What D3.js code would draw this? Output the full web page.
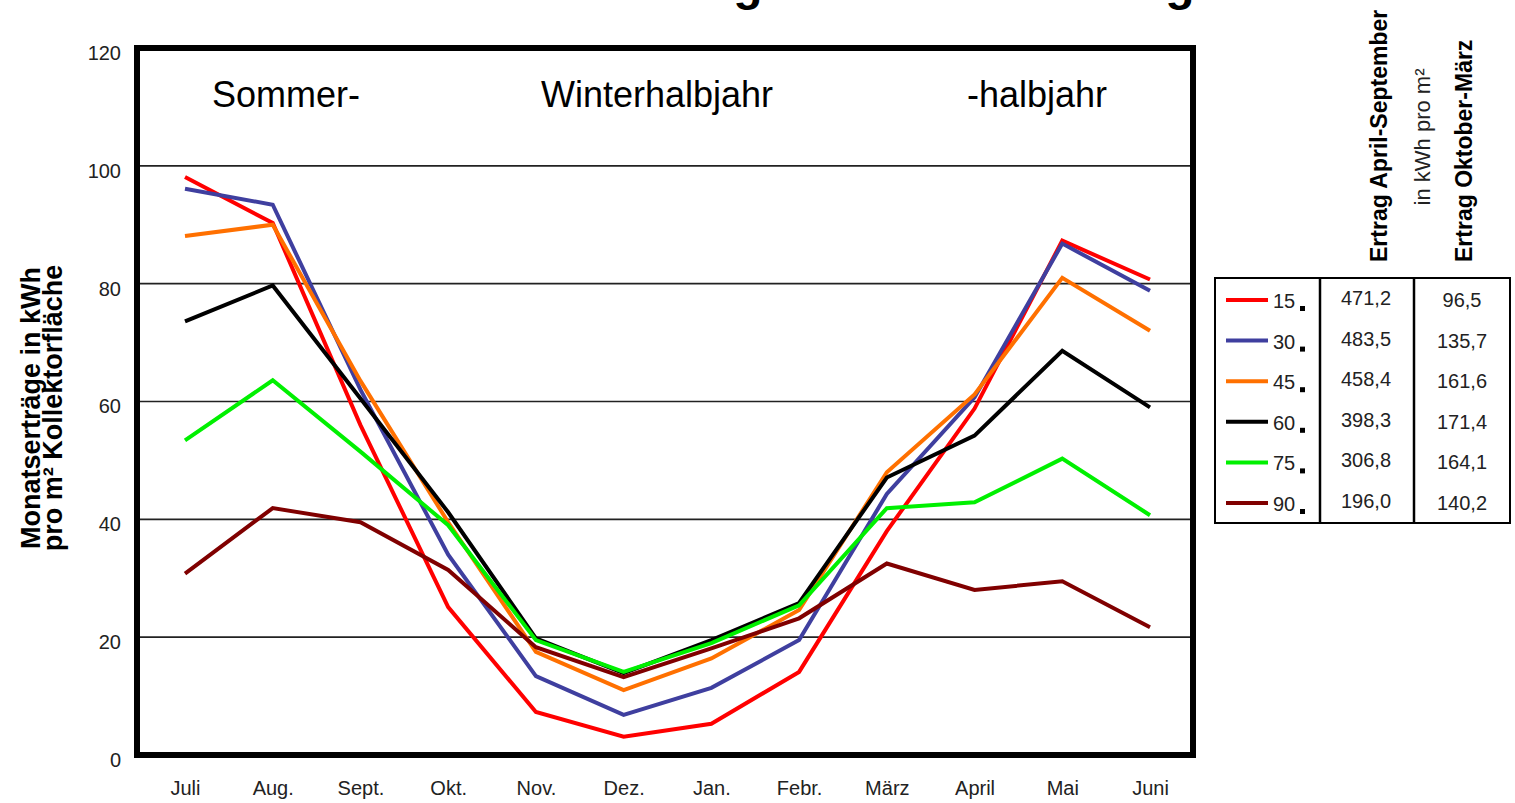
<!DOCTYPE html>
<html>
<head>
<meta charset="utf-8">
<script src="https://cdn.jsdelivr.net/npm/d3@7"></script>
<style>
  body { margin: 0; background: #fff; }
  svg text { font-family: "Liberation Sans", Arial, sans-serif; }
</style>
</head>
<body>
<svg id="chart" width="1515" height="803"></svg>
<script>
// months (Juli .. Juni)
var months = ["Juli", "Aug.", "Sept.", "Okt.", "Nov.", "Dez.", "Jan.", "Febr.", "März", "April", "Mai", "Juni"];
var yTicks = [0, 20, 40, 60, 80, 100, 120];

// monthly yield per m² for each tilt angle
var tilt15 = [98.1, 90.3, 56.0, 25.1, 7.3, 3.1, 5.3, 14.1, 38.0, 58.8, 87.3, 80.7];
var tilt30 = [96.1, 93.4, 62.0, 34.0, 13.4, 6.8, 11.4, 19.5, 44.3, 60.7, 86.8, 78.8];
var tilt45 = [88.1, 90.0, 63.5, 39.5, 17.5, 11.0, 16.4, 24.6, 48.0, 61.2, 81.0, 72.0];
var tilt60 = [73.6, 79.7, 60.5, 41.2, 19.8, 13.9, 19.5, 25.8, 47.1, 54.2, 68.6, 59.0];
var tilt75 = [53.4, 63.6, 51.5, 39.0, 19.5, 14.1, 19.0, 25.4, 41.9, 42.9, 50.3, 40.7];
var tilt90 = [30.8, 41.9, 39.5, 31.4, 18.3, 13.2, 18.1, 23.2, 32.5, 28.0, 29.5, 21.7];

var angles = ["15", "30", "45", "60", "75", "90"];
var colours = ["#ff0000", "#3f3f9f", "#ff7000", "#000000", "#00f000", "#800000"];
var sumAprSep = ["471,2", "483,5", "458,4", "398,3", "306,8", "196,0"];
var sumOctMar = ["96,5", "135,7", "161,6", "171,4", "164,1", "140,2"];

var seriesData = [tilt15, tilt30, tilt45, tilt60, tilt75, tilt90];

drawChart();

function drawChart() {

    var svg = d3.select("#chart");

    // plot frame
    var plotLeft = 137, plotRight = 1193, plotTop = 48, plotBottom = 755;

    var x = d3.scalePoint()
        .domain(months)
        .range([185, 1150]);

    var y = d3.scaleLinear()
        .domain([0, 120])
        .range([plotBottom, plotTop]);

    // cut-off title at the very top (only descenders visible)
    svg.append("text")
        .attr("x", 748).attr("y", 0)
        .attr("text-anchor", "middle")
        .style("font-weight", "bold").style("font-size", "48px")
        .text("g");
    svg.append("text")
        .attr("x", 1180).attr("y", 0)
        .attr("text-anchor", "middle")
        .style("font-weight", "bold").style("font-size", "48px")
        .text("g");

    // gridlines
    svg.append("g")
        .selectAll("line")
        .data(yTicks.filter(function (d) { return d > 0 && d < 120; }))
        .enter().append("line")
        .attr("x1", plotLeft).attr("x2", plotRight)
        .attr("y1", function (d) { return y(d); })
        .attr("y2", function (d) { return y(d); })
        .attr("stroke", "#222")
        .attr("stroke-width", 1.6);

    // y axis labels
    var yAxis = svg.append("g")
        .attr("transform", "translate(" + 121 + ",5)")
        .call(d3.axisLeft(y).tickValues(yTicks).tickSize(0).tickPadding(0));
    yAxis.select(".domain").remove();
    yAxis.selectAll("text")
        .style("font-size", "20px")
        .attr("fill", "#222");

    // x axis labels
    var xAxis = svg.append("g")
        .attr("transform", "translate(0," + 781 + ")")
        .call(d3.axisBottom(x).tickSize(0).tickPadding(0));
    xAxis.select(".domain").remove();
    xAxis.selectAll("text")
        .style("font-size", "20px")
        .attr("fill", "#222");

    // y axis title
    var yTitle = svg.append("text")
        .attr("transform", "translate(40,408) rotate(-90)")
        .attr("text-anchor", "middle")
        .style("font-weight", "bold")
        .style("font-size", "27px");
    yTitle.append("tspan").attr("x", 0).attr("y", 0).text("Monatserträge in kWh");
    yTitle.append("tspan").attr("x", 0).attr("y", 22).text("pro m² Kollektorfläche");

    // season labels
    svg.append("text").attr("x", 212).attr("y", 107)
        .style("font-size", "36px").text("Sommer-");
    svg.append("text").attr("x", 657).attr("y", 107)
        .attr("text-anchor", "middle")
        .style("font-size", "36px").text("Winterhalbjahr");
    svg.append("text").attr("x", 967).attr("y", 107)
        .style("font-size", "36px").text("-halbjahr");

    // lines
    var line = d3.line()
        .x(function (d, i) { return x(months[i]); })
        .y(function (d) { return y(d); });

    svg.append("g")
        .selectAll("path")
        .data(seriesData)
        .enter().append("path")
        .attr("d", line)
        .attr("fill", "none")
        .attr("stroke", function (d, i) { return colours[i]; })
        .attr("stroke-width", 4)
        .attr("stroke-linejoin", "miter");

    // thick frame
    svg.append("rect")
        .attr("x", plotLeft).attr("y", plotTop)
        .attr("width", plotRight - plotLeft).attr("height", plotBottom - plotTop)
        .attr("fill", "none")
        .attr("stroke", "#000")
        .attr("stroke-width", 6);

    // legend table
    var tblLeft = 1215, tblTop = 278, tblRight = 1510, tblBottom = 523;
    var col1 = 1320, col2 = 1414;

    var table = svg.append("g");
    table.append("rect")
        .attr("x", tblLeft).attr("y", tblTop)
        .attr("width", tblRight - tblLeft).attr("height", tblBottom - tblTop)
        .attr("fill", "none").attr("stroke", "#000").attr("stroke-width", 2);
    table.append("line").attr("x1", col1).attr("x2", col1).attr("y1", tblTop).attr("y2", tblBottom)
        .attr("stroke", "#000").attr("stroke-width", 2.5);
    table.append("line").attr("x1", col2).attr("x2", col2).attr("y1", tblTop).attr("y2", tblBottom)
        .attr("stroke", "#000").attr("stroke-width", 2.5);

    var rowY = d3.scalePoint()
        .domain(angles)
        .range([300, 503]);

    var rows = table.selectAll(".row")
        .data(angles)
        .enter().append("g")
        .attr("class", "row")
        .attr("transform", function (d) { return "translate(0," + rowY(d) + ")"; });

    rows.append("line")
        .attr("x1", 1226).attr("x2", 1268)
        .attr("y1", 0).attr("y2", 0)
        .attr("stroke", function (d, i) { return colours[i]; })
        .attr("stroke-width", 4);

    rows.append("text")
        .attr("x", 1273).attr("y", 8)
        .style("font-size", "20px")
        .attr("fill", "#222")
        .text(function (d) { return d; });

    rows.append("rect")
        .attr("x", 1300).attr("y", 6)
        .attr("width", 5).attr("height", 5)
        .attr("fill", "#000");

    rows.append("text")
        .attr("x", 1366).attr("y", 5)
        .attr("text-anchor", "middle")
        .style("font-size", "20px")
        .attr("fill", "#222")
        .text(function (d, i) { return sumAprSep[i]; });

    rows.append("text")
        .attr("x", 1462).attr("y", 7)
        .attr("text-anchor", "middle")
        .style("font-size", "20px")
        .attr("fill", "#222")
        .text(function (d, i) { return sumOctMar[i]; });

    // rotated column headers
    svg.append("text")
        .attr("transform", "translate(1387,262) rotate(-90)")
        .style("font-weight", "bold").style("font-size", "23px")
        .text("Ertrag April-September");
    svg.append("text")
        .attr("transform", "translate(1430,137) rotate(-90)")
        .attr("text-anchor", "middle")
        .style("font-size", "22px")
        .attr("fill", "#222")
        .text("in kWh pro m²");
    svg.append("text")
        .attr("transform", "translate(1472,262) rotate(-90)")
        .style("font-weight", "bold").style("font-size", "23px")
        .text("Ertrag Oktober-März");
}
</script>
</body>
</html>
